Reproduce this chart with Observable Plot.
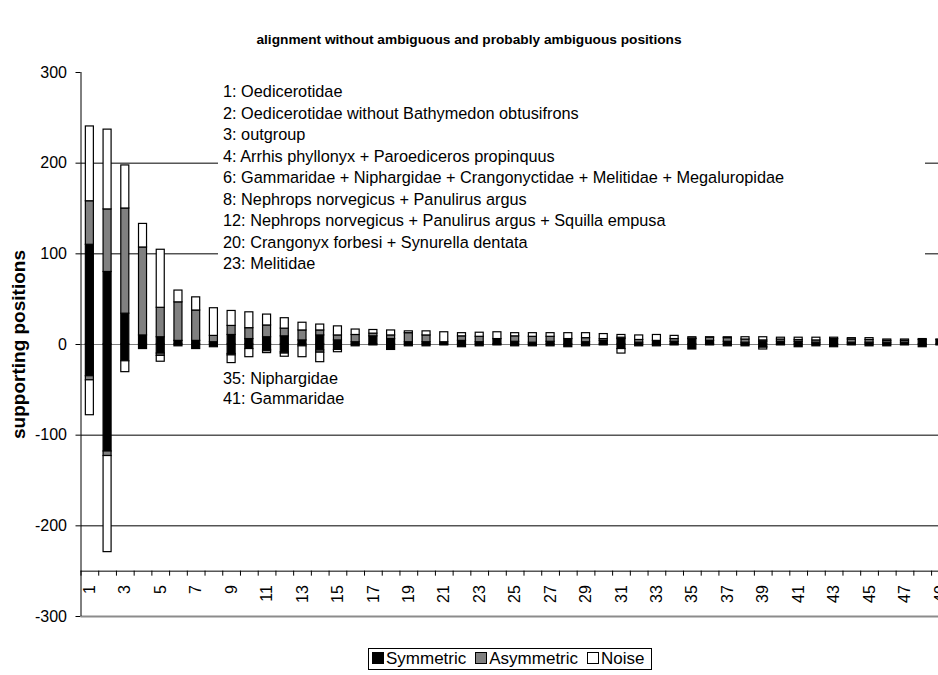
<!DOCTYPE html>
<html><head><meta charset="utf-8">
<script src="https://cdn.jsdelivr.net/npm/d3@7"></script>
<script src="https://cdn.jsdelivr.net/npm/@observablehq/plot@0.6"></script>
<style>
body{margin:0;background:#fff;font-family:Arial,"Liberation Sans",sans-serif;color:#000;}
#wrap{position:relative;width:938px;height:675px;overflow:hidden;}
#title{position:absolute;left:0;width:938px;top:31px;text-align:center;font-weight:bold;font-size:13.7px;line-height:18px;}
#chart{position:absolute;left:0;top:56px;width:950px;}
#chart svg{max-width:none !important;}
.note{position:absolute;left:218px;background:#fff;font-size:16.3px;line-height:21.5px;padding-left:5px;white-space:nowrap;}
#legend{position:absolute;left:368px;top:648px;border:1px solid #000;font-size:17px;line-height:20px;padding:0 6px 0 3px;white-space:nowrap;}
#legend .it{display:inline-block;margin-right:9px;}
#legend .it:last-child{margin-right:0;}
#legend .sw{display:inline-block;width:10px;height:10px;border:1px solid #000;margin-right:2px;vertical-align:0px;}
</style>
</head><body>
<div id="wrap">
  <div id="title"></div>
  <div id="chart"></div>
  <div id="note1" class="note" style="top:81px;width:702px;height:195px;"></div>
  <div id="note2" class="note" style="top:368px;line-height:20px;"></div>
  <div id="legend"></div>
</div>
<script>
const title = "alignment without ambiguous and probably ambiguous positions";
const yLabel = ["supporting positions"];
const series = ["Symmetric", "Asymmetric", "Noise"];
const seriesColors = ["#000000", "#808080", "#ffffff"];
const categories = d3.range(1, 50);
const xTickLabels = categories.filter(c => c % 2 === 1);
const yTicks = [-300, -200, -100, 0, 100, 200, 300];
const gridValues = [-200, -100, 100, 200];
const categoryAxisValue = [-250];
const notes1 = [
  "1: Oedicerotidae",
  "2: Oedicerotidae without Bathymedon obtusifrons",
  "3: outgroup",
  "4: Arrhis phyllonyx + Paroediceros propinquus",
  "6: Gammaridae + Niphargidae + Crangonyctidae + Melitidae + Megaluropidae",
  "8: Nephrops norvegicus + Panulirus argus",
  "12: Nephrops norvegicus + Panulirus argus + Squilla empusa",
  "20: Crangonyx forbesi + Synurella dentata",
  "23: Melitidae"
];
const notes2 = ["35: Niphargidae", "41: Gammaridae"];

// positive parts (stacked upward: Symmetric, Asymmetric, Noise)
const symmetricPos = [110,80,34,10,8,4,4,2.5,10.5,6,8,9,4.5,10,4.5,2.5,9,6,2.5,2.5,2.5,4,2.5,6,3,2,3,6,2.5,4,6,2,4,3,6,4,3,2,3,3,3,2,6,2,2,2,2,5,5];
const asymmetricPos = [48,69,116,97,32.5,42.5,33.5,7,10,12,13,8.5,11,5.5,5.5,8,3,4,10,7.5,0,5,6,0,6,6.5,5.5,0,4.5,2,1.5,3,0,3,0.5,3.5,4,3.5,1.5,2.5,2,2.5,0,3.5,3,2,2,0,0];
const noisePos = [82.5,88,47.5,26,64,13,14.5,30.5,16.5,17.5,12,11.5,8.5,6.5,10,6,4,5.5,2,4.5,11,3.5,4.5,7.5,3.5,4,4,6.5,5.5,5.5,3,5,6.5,3.5,1.5,0.5,1,2.5,3.5,2,2.5,3,1.5,1.5,2,1.5,1.5,1,0.5];
// negative parts (stacked downward)
const symmetricNeg = [-35,-118,-18.5,-5,-10,-2,-5,-3,-10.5,-5,-6,-8.5,-2,-6.5,-6,-2,-1,-6,-2,-2,-1,-3,-2,-1,-2,-2,-2,-3,-2,-1,-5,-2,-2,-1,-5.5,-1,-2,-2,-2.5,-1,-3,-2,-3,-1,-2,-2,-1,-3,-1];
const asymmetricNeg = [-4.5,-5,0,0,-2.5,0,0,0,-1.5,0,-1.5,-1.5,0,-2.5,0,0,0,0,0,0,0,0,0,0,0,0,0,0,0,0,0,0,0,0,0,0,0,0,-1,0,0,0,0,0,0,0,0,0,0];
const noiseNeg = [-38.5,-106,-12,0,-6.5,0,0,0,-8.5,-9,-2,-3.5,-12,-10.5,-2.5,0,0,0,0,0,0,0,0,0,0,0,0,0,0,0,-5,0,0,0,0,0,0,0,-2,0,0,0,0,0,0,0,0,0,0];

const posSets = [symmetricPos, asymmetricPos, noisePos];
const negSets = [symmetricNeg, asymmetricNeg, noiseNeg];

const rows = [];
categories.forEach((c, i) => {
  let p = 0, n = 0;
  series.forEach((s, j) => {
    const vp = posSets[j][i];
    if (vp > 0) rows.push({cat: c, series: s, y1: p, y2: p + vp});
    p += vp;
    const vn = negSets[j][i];
    if (vn < 0) rows.push({cat: c, series: s, y1: n, y2: n + vn});
    n += vn;
  });
});
const boundaries = [categories[0] - 0.5, ...categories.map(c => c + 0.5)];
const xDomain = [categories[0] - 0.5, categories[categories.length - 1] + 0.5];

document.getElementById("title").textContent = title;
document.getElementById("note1").innerHTML = notes1.map(t => `<div>${t}</div>`).join("");
document.getElementById("note2").innerHTML = notes2.map(t => `<div>${t}</div>`).join("");
document.getElementById("legend").innerHTML = series.map((s, j) =>
  `<span class="it"><span class="sw" style="background:${seriesColors[j]}"></span>${s}</span>`).join("");

const chart = Plot.plot({
  width: 950,
  height: 584,
  marginLeft: 80.5,
  marginRight: 1.2,
  marginTop: 16,
  marginBottom: 24,
  style: {fontSize: "16px", fontFamily: "Arial, 'Liberation Sans', sans-serif", color: "#000", background: "#fff", maxWidth: "none"},
  x: {type: "linear", domain: xDomain, axis: null},
  y: {domain: [yTicks[0], yTicks[yTicks.length - 1]], ticks: yTicks, tickSize: 5, tickPadding: 9, tickFormat: d => String(d), label: null},
  color: {domain: series, range: seriesColors},
  marks: [
    Plot.ruleY(gridValues, {stroke: "#000", strokeWidth: 1}),
    Plot.ruleY([0], {stroke: "#808080", strokeWidth: 1.2}),
    Plot.ruleY([yTicks[0]], {stroke: "#8c8c8c", strokeWidth: 2}),
    Plot.ruleY(categoryAxisValue, {stroke: "#000", strokeWidth: 1}),
    Plot.ruleX(boundaries, {y1: categoryAxisValue[0], y2: categoryAxisValue[0], insetBottom: -5, stroke: "#000"}),
    Plot.text(xTickLabels, {x: d => d, y: categoryAxisValue[0], text: d => String(d), rotate: -90, textAnchor: "end", dy: 14, fill: "#000"}),
    Plot.ruleX([xDomain[0]], {y1: yTicks[0], y2: yTicks[yTicks.length - 1], stroke: "#000"}),
    Plot.rect(rows, {x1: d => d.cat - 0.5, x2: d => d.cat + 0.5, y1: "y1", y2: "y2", fill: "series", stroke: "#000", strokeWidth: 1.2, insetLeft: 4.85, insetRight: 4.85}),
    Plot.text(yLabel, {frameAnchor: "left", textAnchor: "middle", rotate: -90, dx: -62, text: d => d, fontWeight: "bold", fontSize: 19, fill: "#000"})
  ]
});
document.getElementById("chart").appendChild(chart);
</script>
</body></html>
